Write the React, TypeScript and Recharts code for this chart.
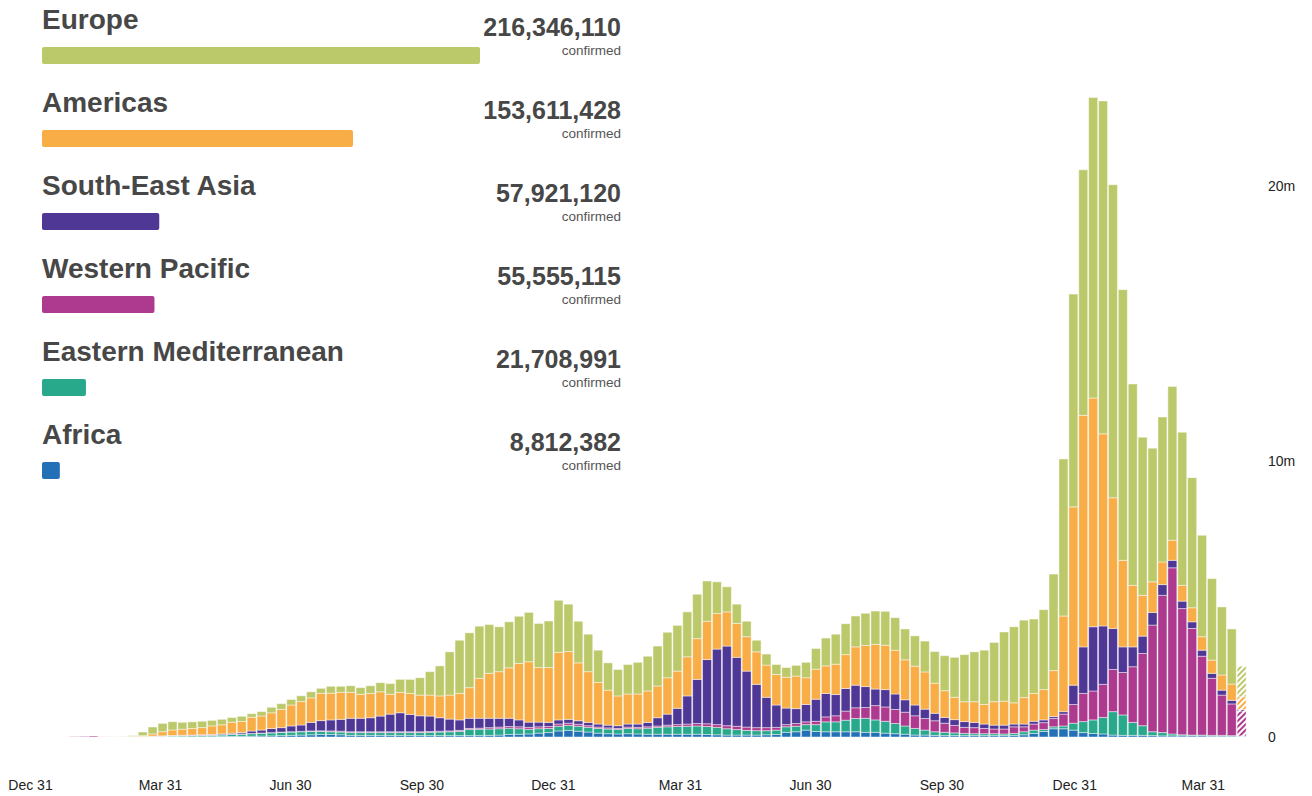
// Weekly confirmed COVID-19 cases by WHO region: stacked weekly bars plus a
// region legend with proportional total bars (Recharts).

import { Bar, BarChart, Cell, LabelList, XAxis, YAxis } from 'recharts'

const regions = [
  'Europe',
  'Americas',
  'South-East Asia',
  'Western Pacific',
  'Eastern Mediterranean',
  'Africa',
]
const regionTotals = [216346110, 153611428, 57921120, 55555115, 21708991, 8812382]
const regionColors = ['#bcc96b', '#f8ad47', '#4f3796', '#ae3a8f', '#28a98b', '#2370b6']

// weekly confirmed cases, millions, one value per week from the week of 30 Dec 2019
const africa = [
  0, 0, 0, 0, 0, 0, 0, 0, 0, 0.0005,
  0.001, 0.002, 0.003, 0.006, 0.007, 0.008, 0.009, 0.01, 0.012, 0.015,
  0.02, 0.025, 0.03, 0.035, 0.04, 0.05, 0.06, 0.07, 0.08, 0.09,
  0.09, 0.08, 0.06, 0.06, 0.06, 0.06, 0.06, 0.06, 0.06, 0.05,
  0.05, 0.05, 0.05, 0.05, 0.05, 0.05, 0.06, 0.07, 0.09, 0.1,
  0.11, 0.14, 0.16, 0.22, 0.24, 0.21, 0.18, 0.14, 0.12, 0.11,
  0.12, 0.11, 0.1, 0.1, 0.1, 0.1, 0.1, 0.1, 0.09, 0.08,
  0.07, 0.07, 0.07, 0.07, 0.08, 0.09, 0.17, 0.19, 0.25, 0.2,
  0.19, 0.19, 0.19, 0.19, 0.17, 0.17, 0.14, 0.12, 0.1, 0.07,
  0.07, 0.06, 0.05, 0.05, 0.05, 0.05, 0.05, 0.05, 0.05, 0.06,
  0.08, 0.13, 0.2, 0.3, 0.3, 0.25, 0.16, 0.13, 0.11, 0.07,
  0.06, 0.06, 0.06, 0.05, 0.04, 0.04, 0.04, 0.04, 0.04, 0.03,
  0.03, 0.03, 0.02,
]
const easternMed = [
  0, 0, 0, 0, 0, 0, 0, 0.0005, 0.0015, 0.006,
  0.008, 0.012, 0.02, 0.025, 0.03, 0.035, 0.04, 0.045, 0.05, 0.06,
  0.07, 0.08, 0.09, 0.1, 0.11, 0.12, 0.12, 0.12, 0.12, 0.11,
  0.1, 0.1, 0.1, 0.1, 0.1, 0.1, 0.1, 0.1, 0.1, 0.11,
  0.12, 0.13, 0.14, 0.15, 0.22, 0.23, 0.23, 0.23, 0.23, 0.2,
  0.17, 0.16, 0.15, 0.17, 0.18, 0.18, 0.17, 0.17, 0.17, 0.16,
  0.19, 0.19, 0.22, 0.25, 0.27, 0.28, 0.29, 0.3, 0.29, 0.27,
  0.23, 0.2, 0.17, 0.16, 0.15, 0.16, 0.2, 0.2, 0.2, 0.25,
  0.36, 0.36, 0.42, 0.48, 0.51, 0.45, 0.43, 0.37, 0.3, 0.24,
  0.18, 0.13, 0.12, 0.1, 0.08, 0.07, 0.07, 0.07, 0.06, 0.07,
  0.11, 0.12, 0.07, 0.07, 0.1, 0.25, 0.4, 0.49, 0.6, 0.85,
  0.74, 0.47, 0.35, 0.14, 0.12, 0.07, 0.04, 0.03, 0.03, 0.03,
  0.03, 0.02, 0.02,
]
const westernPacific = [
  0, 0.0001, 0.0003, 0.002, 0.012, 0.022, 0.034, 0.01, 0.005, 0.004,
  0.004, 0.004, 0.005, 0.006, 0.007, 0.007, 0.006, 0.006, 0.006, 0.007,
  0.006, 0.006, 0.007, 0.007, 0.008, 0.01, 0.012, 0.015, 0.02, 0.025,
  0.03, 0.03, 0.03, 0.03, 0.03, 0.03, 0.03, 0.03, 0.03, 0.03,
  0.03, 0.03, 0.03, 0.04, 0.04, 0.04, 0.05, 0.06, 0.06, 0.07,
  0.07, 0.07, 0.07, 0.08, 0.08, 0.07, 0.06, 0.05, 0.04, 0.04,
  0.05, 0.05, 0.05, 0.05, 0.06, 0.07, 0.08, 0.09, 0.1, 0.1,
  0.11, 0.12, 0.12, 0.11, 0.11, 0.1, 0.08, 0.1, 0.1, 0.12,
  0.18, 0.22, 0.33, 0.39, 0.39, 0.52, 0.52, 0.51, 0.5, 0.46,
  0.42, 0.4, 0.33, 0.27, 0.22, 0.22, 0.19, 0.17, 0.18, 0.24,
  0.18, 0.22, 0.25, 0.3, 0.43, 0.68, 1.02, 1.05, 1.2, 1.53,
  1.54, 2.02, 2.62, 3.87, 4.98, 6.03, 4.58, 3.87, 2.86, 2.07,
  1.46, 1.15, 0.9,
]
const southEastAsia = [
  0, 0, 0, 0, 0, 0, 0, 0, 0, 0.0001,
  0.001, 0.002, 0.004, 0.006, 0.01, 0.013, 0.015, 0.02, 0.025, 0.03,
  0.04, 0.05, 0.09, 0.11, 0.15, 0.16, 0.21, 0.23, 0.31, 0.37,
  0.4, 0.43, 0.49, 0.49, 0.51, 0.57, 0.64, 0.69, 0.63, 0.58,
  0.56, 0.49, 0.43, 0.38, 0.37, 0.36, 0.34, 0.32, 0.3, 0.25,
  0.19, 0.17, 0.15, 0.15, 0.14, 0.13, 0.12, 0.11, 0.1, 0.1,
  0.11, 0.12, 0.16, 0.3, 0.4, 0.59, 1.02, 1.6, 2.33, 2.74,
  2.89, 2.5, 2.03, 1.57, 1.1, 0.81, 0.6, 0.54, 0.63, 0.8,
  0.85, 0.77, 0.82, 0.82, 0.76, 0.6, 0.63, 0.56, 0.45, 0.39,
  0.34, 0.27, 0.21, 0.21, 0.21, 0.19, 0.16, 0.14, 0.14, 0.1,
  0.1, 0.1, 0.1, 0.07, 0.09, 0.7, 1.69, 2.33, 2.12, 1.49,
  0.93, 0.72, 0.63, 0.46, 0.39, 0.27, 0.27, 0.24, 0.22, 0.18,
  0.18, 0.13, 0.06,
]
const americas = [
  0, 0, 0, 0, 0, 0, 0, 0, 0.0002, 0.001,
  0.006, 0.03, 0.08, 0.15, 0.2, 0.22, 0.24, 0.26, 0.31, 0.33,
  0.4, 0.4, 0.5, 0.51, 0.57, 0.66, 0.76, 0.85, 0.89, 0.99,
  0.97, 0.98, 0.94, 0.87, 0.88, 0.88, 0.72, 0.74, 0.76, 0.75,
  0.76, 0.79, 0.87, 0.96, 1.11, 1.45, 1.63, 1.69, 1.83, 2.05,
  2.19, 1.98, 1.99, 2.45, 2.46, 2.1, 1.84, 1.51, 1.27, 1.08,
  1.09, 1.09, 1.14, 1.15, 1.32, 1.35, 1.42, 1.48, 1.39, 1.29,
  1.24, 1.23, 1.25, 1.18, 1.17, 1.11, 1.12, 1.18, 0.97, 1.09,
  1.0, 1.1, 1.23, 1.39, 1.49, 1.62, 1.61, 1.59, 1.45, 1.41,
  1.35, 1.09, 0.97, 0.81, 0.72, 0.75, 0.71, 0.85, 0.87, 0.77,
  0.96, 1.01, 1.1, 1.67, 3.47, 6.47, 8.4, 8.3, 6.97, 4.74,
  3.14, 2.23, 1.48, 1.11, 0.82, 0.73, 0.57, 0.51, 0.49, 0.48,
  0.55, 0.59, 0.46,
]
const europe = [
  0, 0, 0, 0, 0, 0, 0, 0.0005, 0.002, 0.012,
  0.03, 0.13, 0.25, 0.3, 0.3, 0.25, 0.24, 0.23, 0.2, 0.2,
  0.17, 0.19, 0.13, 0.16, 0.2, 0.21, 0.2, 0.21, 0.22, 0.18,
  0.25, 0.22, 0.24, 0.24, 0.28, 0.33, 0.39, 0.47, 0.51, 0.63,
  0.85, 1.09, 1.57, 1.93, 1.99, 1.89, 1.77, 1.63, 1.67, 1.71,
  1.79, 1.6, 1.69, 1.89, 1.72, 1.51, 1.36, 1.17, 0.99, 0.96,
  1.07, 1.15, 1.26, 1.45, 1.65, 1.66, 1.63, 1.61, 1.46, 1.15,
  0.91, 0.7, 0.56, 0.42, 0.4, 0.36, 0.35, 0.39, 0.56, 0.75,
  1.01, 1.09, 1.12, 1.12, 1.17, 1.21, 1.23, 1.18, 1.12, 1.1,
  1.12, 1.15, 1.27, 1.45, 1.71, 1.81, 1.97, 2.15, 2.51, 2.76,
  2.81, 2.7, 2.9, 3.5, 5.7, 7.72, 8.91, 10.9, 12.08, 11.36,
  9.82, 7.31, 5.74, 4.85, 5.26, 5.58, 5.56, 4.72, 3.68, 2.96,
  2.47, 2.0, 1.11,
]

// date ticks, days after 31 Dec 2019
const tickDays = [0, 91, 182, 274, 366, 455, 546, 638, 731, 821]
const tickLabels = ['Dec 31', 'Mar 31', 'Jun 30', 'Sep 30', 'Dec 31', 'Mar 31', 'Jun 30', 'Sep 30', 'Dec 31', 'Mar 31']
const yTicks = [0, 10, 20]

// stacked bottom -> top
const stack = [
  { key: 'af', values: africa, color: regionColors[5] },
  { key: 'em', values: easternMed, color: regionColors[4] },
  { key: 'wp', values: westernPacific, color: regionColors[3] },
  { key: 'sea', values: southEastAsia, color: regionColors[2] },
  { key: 'am', values: americas, color: regionColors[1] },
  { key: 'eu', values: europe, color: regionColors[0] },
]

const weeks = europe.map((_, i) => {
  const row: Record<string, number> = { week: i, t: 2.5 + 7 * i }
  stack.forEach((s) => {
    row[s.key] = s.values[i]
  })
  return row
})
const lastWeek = weeks.length - 1

const legendRows = regions.map((name, i) => ({ name, total: regionTotals[i] }))

const FONT = '"Liberation Sans", Arial, Helvetica, sans-serif'
const INK = '#474747'

function LegendLabel(props: any) {
  const { x, y, value } = props
  const idx = regions.indexOf(value)
  return (
    <g style={{ fontFamily: FONT }}>
      <text x={x} y={y - 18} fontSize={28} fontWeight="bold" fill={INK}>
        {value}
      </text>
      <text x={621} y={y - 11} fontSize={25} fontWeight="bold" fill={INK} textAnchor="end">
        {regionTotals[idx].toLocaleString('en-US')}
      </text>
      <text x={621} y={y + 8} fontSize={13.5} fill="#555" textAnchor="end">
        confirmed
      </text>
    </g>
  )
}

// date label under the bars, baseline fixed a little above the bottom edge
function DateTick(props: any) {
  const { x, payload, index } = props
  return (
    <text x={x} y={790} textAnchor="middle" fontSize={14} fill="#222" style={{ fontFamily: FONT }}>
      {tickLabels[index] ?? tickLabels[tickDays.indexOf(payload.value)]}
    </text>
  )
}

export default function App() {
  return (
    <div
      style={{
        position: 'absolute',
        left: 0,
        top: 0,
        width: 1312,
        height: 796,
        background: '#fff',
        fontFamily: FONT,
      }}
    >
      <BarChart
        width={1312}
        height={796}
        data={weeks}
        margin={{ top: 48, right: 0, bottom: 0, left: 29.35 }}
        barSize={9}
      >
        <defs>
          {stack.map((s) => (
            <pattern
              key={s.key}
              id={`hatch-${s.key}`}
              patternUnits="userSpaceOnUse"
              width={4}
              height={4}
              patternTransform="rotate(45)"
            >
              <rect width={4} height={4} fill="#fff" />
              <rect width={2} height={4} fill={s.color} />
            </pattern>
          ))}
        </defs>
        <XAxis xAxisId="cat" dataKey="week" type="category" hide />
        <XAxis
          xAxisId="time"
          dataKey="t"
          type="number"
          scale="linear"
          domain={[-0.805, 851.6]}
          allowDataOverflow
          ticks={tickDays}
          interval={0}
          axisLine={false}
          tickLine={false}
          height={59}
          tick={<DateTick />}
        />
        <YAxis
          orientation="right"
          width={64.95}
          domain={[0, 25]}
          ticks={yTicks}
          interval={0}
          tickFormatter={(v: number) => (v === 0 ? '0' : `${v}m`)}
          axisLine={false}
          tickLine={false}
          tickSize={0}
          tickMargin={21}
          tick={{ fill: '#222', fontSize: 14, fontFamily: FONT, textAnchor: 'start' }}
        />
        {stack.map((s) => (
          <Bar
            key={s.key}
            xAxisId="cat"
            dataKey={s.key}
            stackId="w"
            fill={s.color}
            stroke="rgba(255,255,255,0.45)"
            strokeWidth={1}
            isAnimationActive={false}
          >
            {weeks.map((_, i) => (
              <Cell key={i} fill={i === lastWeek ? `url(#hatch-${s.key})` : s.color} />
            ))}
          </Bar>
        ))}
      </BarChart>

      <div style={{ position: 'absolute', left: 0, top: 0 }}>
        <BarChart
          width={640}
          height={520}
          data={legendRows}
          layout="vertical"
          margin={{ top: 14, right: 160, bottom: 8, left: 42 }}
          barSize={17}
        >
          <XAxis type="number" domain={[0, regionTotals[0]]} hide />
          <YAxis type="category" dataKey="name" hide />
          <Bar dataKey="total" radius={2} isAnimationActive={false}>
            {legendRows.map((_, i) => (
              <Cell key={i} fill={regionColors[i]} />
            ))}
            <LabelList dataKey="name" content={LegendLabel} />
          </Bar>
        </BarChart>
      </div>
    </div>
  )
}
